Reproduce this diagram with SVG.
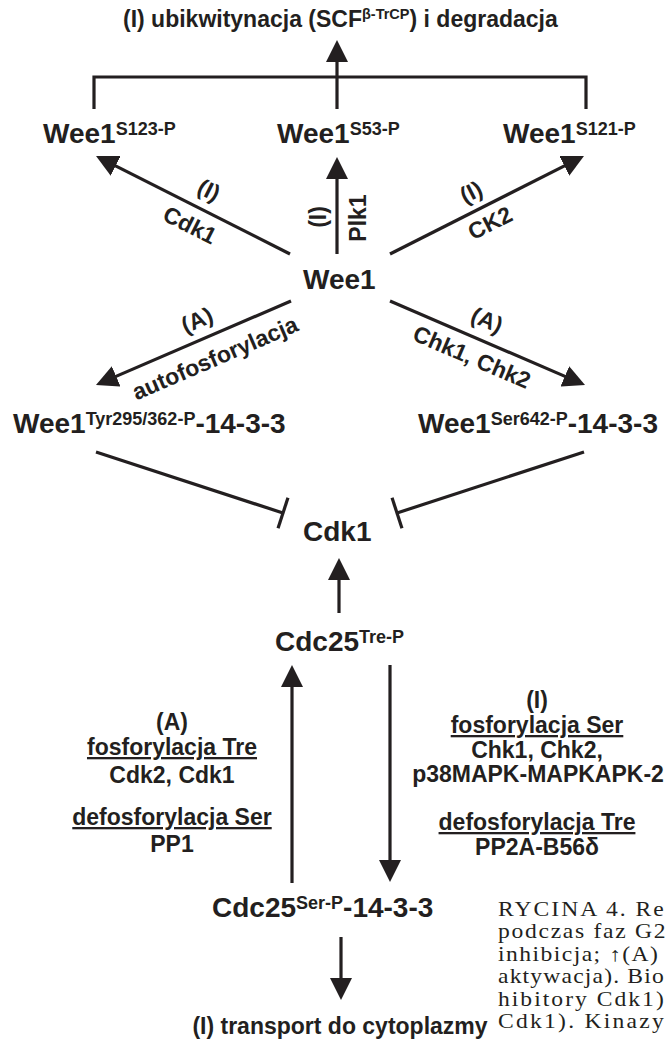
<svg xmlns="http://www.w3.org/2000/svg" width="669" height="1039" viewBox="0 0 669 1039">
<style>
text{font-family:"Liberation Sans",Arial,sans-serif;fill:#231f20;font-weight:bold}
.n{font-size:28px}
.s{font-size:18px}
.l{font-size:23px}
.c{text-anchor:middle}
.u{text-decoration:underline}
.cap{font-family:"Liberation Serif","Times New Roman",serif;font-weight:normal;font-size:20px}
.e{fill:none;stroke:#231f20;stroke-width:3.2}
.a{marker-end:url(#ah)}
.i{marker-end:url(#tb)}
</style>
<defs>
<marker id="ah" markerUnits="userSpaceOnUse" markerWidth="24" markerHeight="22" viewBox="0 0 24 22" refX="4" refY="11" orient="auto"><path d="M0,0 L22,11 L0,22 z" fill="#231f20"/></marker>
<marker id="tb" markerUnits="userSpaceOnUse" markerWidth="6" markerHeight="36" viewBox="-3 -18 6 36" refX="0" refY="0" orient="auto"><path d="M0,-16 V16" stroke="#231f20" stroke-width="3.2"/></marker>
</defs>
<g id="connectors">
<path class="e" d="M94,109 V77 H586 V109"/>
<line class="e a" x1="337" y1="109" x2="337" y2="58"/>
<line class="e a" x1="290" y1="254" x2="112.1" y2="164.1"/>
<line class="e a" x1="337" y1="254" x2="337" y2="175"/>
<line class="e a" x1="390" y1="254" x2="567.9" y2="164.1"/>
<line class="e a" x1="291" y1="301" x2="112.5" y2="377.9"/>
<line class="e a" x1="390" y1="301" x2="568.5" y2="377.9"/>
<line class="e i" x1="96" y1="452" x2="283" y2="513"/>
<line class="e i" x1="584" y1="452" x2="397" y2="513"/>
<line class="e a" x1="339" y1="613" x2="339" y2="576"/>
<line class="e a" x1="292" y1="883" x2="292" y2="683"/>
<line class="e a" x1="390" y1="665" x2="390" y2="864"/>
<line class="e a" x1="341" y1="937" x2="341" y2="982"/>
</g>
<g id="title"><text x="123" y="27" font-size="23">(I) ubikwitynacja (SCF<tspan font-size="14.5" dy="-8">β-TrCP</tspan><tspan dy="8">) i degradacja</tspan></text></g>
<g id="wee1-s123"><text class="n" x="43" y="143">Wee1<tspan class="s" dy="-8">S123-P</tspan></text></g>
<g id="wee1-s53"><text class="n" x="277" y="143">Wee1<tspan class="s" dy="-8">S53-P</tspan></text></g>
<g id="wee1-s121"><text class="n" x="503" y="143">Wee1<tspan class="s" dy="-8">S121-P</tspan></text></g>
<g id="wee1"><text class="n" x="303" y="289">Wee1</text></g>
<g id="wee1-tyr"><text class="n" x="13" y="433">Wee1<tspan class="s" dy="-8">Tyr295/362-P</tspan><tspan dy="8">-14-3-3</tspan></text></g>
<g id="wee1-ser"><text class="n" x="418" y="433">Wee1<tspan class="s" dy="-8">Ser642-P</tspan><tspan dy="8">-14-3-3</tspan></text></g>
<g id="cdk1"><text class="n" x="303" y="541">Cdk1</text></g>
<g id="cdc25-tre"><text class="n" x="275" y="651">Cdc25<tspan class="s" dy="-8">Tre-P</tspan></text></g>
<g id="cdc25-ser"><text class="n" x="212" y="917">Cdc25<tspan class="s" dy="-8">Ser-P</tspan><tspan dy="8">-14-3-3</tspan></text></g>
<g id="transport"><text class="l c" x="340" y="1034">(I) transport do cytoplazmy</text></g>
<g id="edge-labels">
<g transform="translate(209,190) rotate(26.8)"><text class="l c" y="8">(I)</text></g>
<g transform="translate(190,225) rotate(26.8)"><text class="l c" y="8">Cdk1</text></g>
<g transform="translate(318,217) rotate(-90)"><text class="l c" y="8">(I)</text></g>
<g transform="translate(358,218) rotate(-90)"><text class="l c" y="8">Plk1</text></g>
<g transform="translate(471,192) rotate(-26.8)"><text class="l c" y="8">(I)</text></g>
<g transform="translate(490,223) rotate(-26.8)"><text class="l c" y="8">CK2</text></g>
<g transform="translate(197,320) rotate(-23.3)"><text class="l c" y="8">(A)</text></g>
<g transform="translate(215,358) rotate(-23.3)"><text class="l c" y="8">autofosforylacja</text></g>
<g transform="translate(487,320) rotate(23.3)"><text class="l c" y="8">(A)</text></g>
<g transform="translate(472,357) rotate(23.3)"><text class="l c" y="8">Chk1, Chk2</text></g>
</g>
<g id="left-labels">
<text class="l c" x="172" y="730">(A)</text>
<text class="l c u" x="172" y="755">fosforylacja Tre</text>
<text class="l c" x="172" y="783">Cdk2, Cdk1</text>
<text class="l c u" x="172" y="825">defosforylacja Ser</text>
<text class="l c" x="172" y="852">PP1</text>
</g>
<g id="right-labels">
<text class="l c" x="537" y="708">(I)</text>
<text class="l c u" x="537" y="733">fosforylacja Ser</text>
<text class="l c" x="537" y="758">Chk1, Chk2,</text>
<text class="l c" x="538" y="782" font-size="23.5">p38MAPK-MAPKAPK-2</text>
<text class="l c u" x="537" y="830">defosforylacja Tre</text>
<text class="l c" x="537" y="855">PP2A-B56δ</text>
</g>
<g id="caption" transform="translate(498,0) scale(1.18,1)">
<text class="cap" x="0" y="916"><tspan textLength="140.5" lengthAdjust="spacing">RYCINA 4. Re</tspan><tspan x="0" dy="22.5" textLength="142" lengthAdjust="spacing">podczas faz G2</tspan><tspan x="0" dy="22.5" textLength="135.5" lengthAdjust="spacing">inhibicja; ↑(A)</tspan><tspan x="0" dy="22.5" textLength="140.5" lengthAdjust="spacing">aktywacja). Bio</tspan><tspan x="0" dy="22.5" textLength="140.5" lengthAdjust="spacing">hibitory Cdk1)</tspan><tspan x="0" dy="22.5" textLength="140.5" lengthAdjust="spacing">Cdk1). Kinazy</tspan></text>
</g>
</svg>
